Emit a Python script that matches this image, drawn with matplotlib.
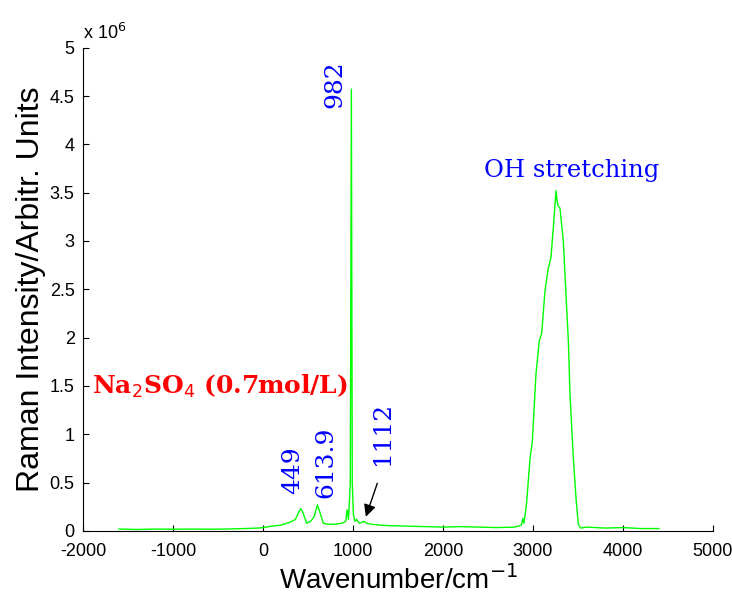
import matplotlib
matplotlib.use('Agg')
import matplotlib.pyplot as plt

plt.rcParams['axes.unicode_minus'] = False

# Raman spectrum of Na2SO4 solution, intensity in units of 1e6
wavenumber = [-1600, -1400, -1200, -1000, -800, -600, -400, -200, -50, 0,
              100, 200, 300, 360, 400, 419, 440, 485, 530, 570, 604, 630,
              670, 720, 800, 880, 920, 935, 950, 960, 970, 982, 992, 1004,
              1020, 1040, 1070, 1100, 1122, 1150, 1200, 1300, 1400, 1600,
              1800, 2000, 2200, 2400, 2600, 2800, 2870, 2889, 2900, 2930,
              2967, 2993, 3033, 3070, 3096, 3133, 3170, 3200, 3226, 3256,
              3270, 3281, 3300, 3337, 3374, 3393, 3411, 3448, 3478, 3504,
              3530, 3600, 3800, 4000, 4100, 4200, 4400]
intensity = [0.02, 0.015, 0.02, 0.018, 0.02, 0.018, 0.02, 0.025, 0.03, 0.035,
             0.05, 0.06, 0.09, 0.12, 0.2, 0.23, 0.2, 0.08, 0.1, 0.15, 0.27, 0.2,
             0.08, 0.07, 0.07, 0.08, 0.1, 0.22, 0.12, 0.3, 0.5, 4.57, 0.5, 0.18,
             0.1, 0.12, 0.08, 0.09, 0.1, 0.08, 0.07, 0.06, 0.055, 0.05,
             0.045, 0.04, 0.045, 0.04, 0.035, 0.04, 0.06, 0.13, 0.08, 0.3,
             0.75, 0.93, 1.62, 1.97, 2.04, 2.48, 2.72, 2.83, 3.14, 3.52,
             3.4, 3.36, 3.34, 3.0, 2.31, 1.97, 1.42, 0.76, 0.34, 0.07,
             0.03, 0.04, 0.03, 0.035, 0.03, 0.025, 0.025]

x_ticks = [-2000, -1000, 0, 1000, 2000, 3000, 4000, 5000]
y_ticks = [0, 0.5, 1, 1.5, 2, 2.5, 3, 3.5, 4, 4.5, 5]
y_ticklabels = ['0', '0.5', '1', '1.5', '2', '2.5', '3', '3.5', '4', '4.5', '5']

sans = 'Liberation Sans'
serif = 'DejaVu Serif'

fig = plt.figure(figsize=(7.32, 6.02), dpi=100)
ax = fig.add_axes([0.1134, 0.118, 0.8606, 0.8028])

ax.plot(wavenumber, intensity, color='#00ff00', lw=1)

ax.set_xlim(-2000, 5000)
ax.set_ylim(0, 5)
ax.set_xticks(x_ticks)
ax.set_yticks(y_ticks)
ax.set_yticklabels(y_ticklabels)
for lab in ax.get_xticklabels() + ax.get_yticklabels():
    lab.set_fontfamily(sans)
    lab.set_fontsize(13)
ax.tick_params(direction='in', length=4, width=0.8)
ax.tick_params(axis='x', pad=9)
ax.tick_params(axis='y', pad=6)
ax.spines['top'].set_visible(False)
ax.spines['right'].set_visible(False)

ax.set_xlabel('Wavenumber/cm$^{-1}$', fontsize=20, family=sans, labelpad=3)
ax.set_ylabel('Raman Intensity/Arbitr. Units', fontsize=23, family=sans, labelpad=3)
ax.text(0.0, 1.01, r'x 10$^{6}$', transform=ax.transAxes, fontsize=13,
        family=sans, ha='left', va='bottom')

# peak labels
ax.text(800, 4.62, '982', rotation=90, color='blue', fontsize=18, family=serif,
        ha='center', va='center')
ax.text(333, 0.63, '449', rotation=90, color='blue', fontsize=18, family=serif,
        ha='center', va='center')
ax.text(700, 0.71, '613.9', rotation=90, color='blue', fontsize=18, family=serif,
        ha='center', va='center')
ax.text(1333, 1.01, '1112', rotation=90, color='blue', fontsize=18, family=serif,
        ha='center', va='center')
ax.annotate('', xy=(1133, 0.12), xytext=(1280, 0.52),
            arrowprops=dict(arrowstyle='-|>', color='black', lw=1,
                            mutation_scale=18))
ax.text(3433, 3.73, 'OH stretching', color='blue', fontsize=17.5, family=serif,
        ha='center', va='center')
ax.text(-1900, 1.5, r'Na$_2$SO$_4$ (0.7mol/L)', color='red', fontsize=18,
        family=serif, fontweight='bold', ha='left', va='center')

fig.savefig('out.png', dpi=100)
